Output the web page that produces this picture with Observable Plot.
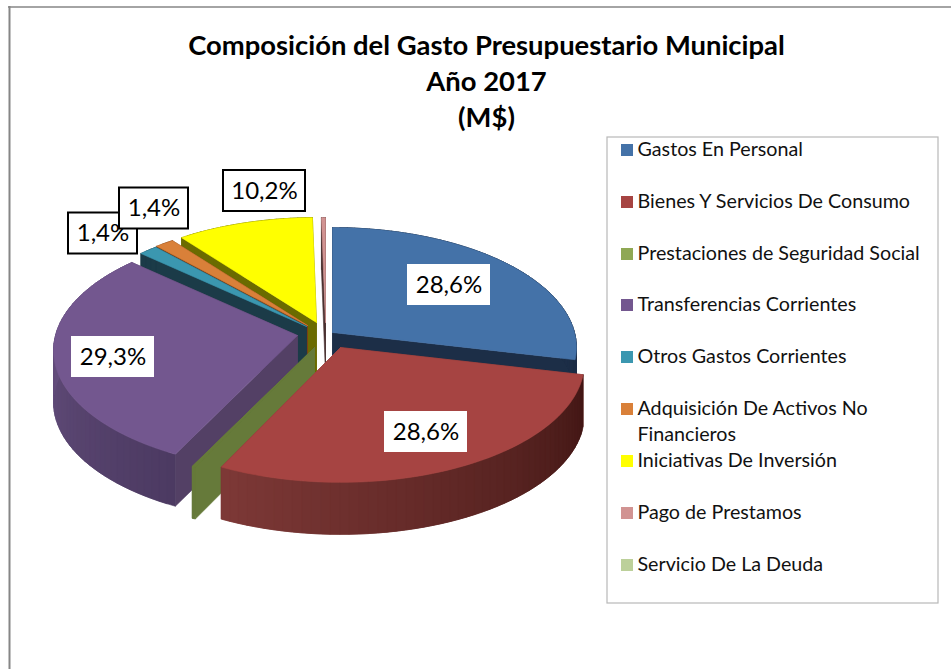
<!DOCTYPE html>
<html lang="es">
<head>
<meta charset="utf-8">
<title>Composición del Gasto Presupuestario Municipal</title>
<script src="https://cdn.jsdelivr.net/npm/d3@7"></script>
<script src="https://cdn.jsdelivr.net/npm/@observablehq/plot@0.6"></script>
<style>
  html, body { margin: 0; padding: 0; background: #fff; }
  svg { display: block; }
</style>
</head>
<body>
<div id="chart"></div>
<script>
// ---- Data ----
const categories = [
  "Gastos En Personal", "Bienes Y Servicios De Consumo", "Prestaciones de Seguridad Social",
  "Transferencias Corrientes", "Otros Gastos Corrientes", "Adquisición De Activos No Financieros",
  "Iniciativas De Inversión", "Pago de Prestamos", "Servicio De La Deuda"
];
const shares = [28.6, 28.6, 0.2, 29.3, 1.4, 1.4, 10.2, 0.3, 0];
const labelled = [28.6, 28.6, null, 29.3, 1.4, 1.4, 10.2, null, null];
const titleLines = ["Composición del Gasto Presupuestario Municipal", "Año 2017", "(M$)"];

// ---- Colours ----
const legendColors = ["#4472a8", "#a64442", "#8fa854", "#73578f", "#3b97b0", "#d98039", "#ffff00", "#d19392", "#bcd09a"];
const topColors  = ["#4472a8", "#a64442", "#667a3a", "#73578f", "#3b97b0", "#d98039", "#ffff00", "#d19392", "#bcd09a"];
const wallFront  = ["#1c2e47", "#7e3937", "#667a3a", "#4c3a62", "#1b3b48", "#7a3f15", "#6b6b00", "#4a3030", "#6b7a50"];
const wallBack   = ["#1c2e47", "#3f1513", "#667a3a", "#66507f", "#1b3b48", "#7a3f15", "#6b6b00", "#4a3030", "#6b7a50"];
const edgeColors = ["#1c2e47", "#7e3937", "#667a3a", "#534065", "#1b3b48", "#7a3f15", "#6b6b00", "#4a3030", "#6b7a50"];

// ---- 3D pie layout (pixels of the plot scale) ----
const radiusX = 242, radiusY = 118, perspective = 0.125, depth = 52;
const apexes = [[332,332],[340,347],[314,347],[297,335],[306,326],[307,325],[316,322],[325,322],[325,322]];
const paintOrder = [7, 0, 6, 5, 4, 3, 2, 1];

const slices = d3.pie().sort(null).value(d => d)(shares);
const rim = (i, a) => {
  const u = Math.sin(a), v = -Math.cos(a), w = 1 / (1 - perspective * v);
  return [apexes[i][0] + radiusX * u * w, apexes[i][1] + radiusY * v * w];
};
const polys = [];
let polyId = 0;
const addPoly = (pts, fill) => {
  const id = polyId++;
  for (const [x, y] of [...pts, pts[0]]) polys.push({id, x, y, fill});
};
for (const i of paintOrder) {
  const {startAngle: a0, endAngle: a1} = slices[i];
  const [ax, ay] = apexes[i];
  const n = Math.max(2, Math.ceil((a1 - a0) / (Math.PI / 90)));
  const angles = d3.range(n + 1).map(k => a0 + (a1 - a0) * k / n);
  // radial walls
  for (const a of [a1, a0]) {
    const [x, y] = rim(i, a);
    addPoly([[ax, ay], [x, y], [x, y + depth], [ax, ay + depth]], edgeColors[i]);
  }
  // outer wall, shaded strip by strip; each strip runs under the next one so no seam shows
  const shade = d3.interpolateRgb(wallFront[i], wallBack[i]);
  const low = Math.PI * 0.55, high = Math.PI * 1.15;
  for (let k = 0; k < n; k++) {
    const end = Math.min(k + 2, n);
    const arc = d3.range(k, end + 1).map(j => rim(i, angles[j]));
    const mid = (angles[k] + angles[k + 1]) / 2;
    const t = i === 3 ? (mid - Math.PI * 1.15) / (Math.PI * 0.4)
                      : (high - mid) / (high - low);
    addPoly([...arc, ...arc.slice().reverse().map(([x, y]) => [x, y + depth])],
            shade(Math.max(0, Math.min(1, t))));
  }
  // top surface
  addPoly([[ax, ay], ...angles.map(a => rim(i, a))], topColors[i]);
}

// ---- Data labels ----
const labelBoxes = [
  {i: 0, x: 448.5, y: 284.5, w: 83, boxed: false},
  {i: 1, x: 425.5, y: 431.5, w: 83, boxed: false},
  {i: 3, x: 112.5, y: 356.5, w: 83, boxed: false},
  {i: 4, x: 102.5, y: 233,   w: 69, boxed: true},
  {i: 5, x: 153.5, y: 208,   w: 69, boxed: true},
  {i: 6, x: 264,   y: 190.5, w: 82, boxed: true}
];
const fmt = v => String(v).replace(".", ",") + "%";
const labelMarks = labelBoxes.flatMap(b => [
  Plot.rect([b], {
    x1: d => d.x - d.w / 2, x2: d => d.x + d.w / 2,
    y1: d => d.y - 20.5, y2: d => d.y + 20.5,
    fill: "white", stroke: b.boxed ? "#000" : "none", strokeWidth: 2
  }),
  Plot.text([b], {
    x: "x", y: "y", text: d => fmt(labelled[d.i]),
    fontFamily: "Lato, Carlito, sans-serif", fontSize: 24, fill: "#000",
    textAnchor: "middle", lineAnchor: "middle"
  })
]);

// ---- Legend ----
const legendRows = [150, 202, 254, 305, 357, 409, 461, 513, 565];
const legendRowsData = categories.map((name, i) => ({name, i, y: legendRows[i], color: legendColors[i]}));
const legendLines = legendRowsData.flatMap(d =>
  d.i === 5
    ? [{text: "Adquisición De Activos No", y: d.y - 1}, {text: "Financieros", y: d.y + 25}]
    : [{text: d.name, y: d.y - 1}]
);

const chart = Plot.plot({
  width: 951, height: 669,
  margin: 0,
  style: {background: "#fff", overflow: "visible"},
  x: {domain: [0, 951], range: [0, 951], axis: null},
  y: {domain: [0, 669], range: [0, 669], axis: null},
  color: {type: "identity"},
  marks: [
    // outer chart frame
    Plot.ruleX([9], {y1: 6, y2: 669, stroke: "#868686", strokeWidth: 2}),
    Plot.ruleY([6.5], {x1: 8, x2: 951, stroke: "#868686", strokeWidth: 1.5}),
    // title
    Plot.text(titleLines, {
      x: 486, y: (d, i) => 46 + i * 36, text: d => d,
      fontFamily: "Lato, Carlito, sans-serif", fontWeight: "bold", fontSize: 27.4, fill: "#000",
      textAnchor: "middle", lineAnchor: "middle"
    }),
    // pie
    Plot.line(polys, {x: "x", y: "y", z: "id", fill: "fill", stroke: "fill", strokeWidth: 0.6}),
    ...labelMarks,
    // legend
    Plot.rect([0], {x1: 607, x2: 938, y1: 137, y2: 603, fill: "white", stroke: "#b8b8b8", strokeWidth: 1.2}),
    Plot.rect(legendRowsData, {
      x1: () => 621, x2: () => 633, y1: d => d.y - 6, y2: d => d.y + 6, fill: "color"
    }),
    Plot.text(legendLines, {
      x: () => 637, y: "y", text: "text",
      fontFamily: "Lato, Carlito, sans-serif", fontSize: 19.7, fill: "#111",
      textAnchor: "start", lineAnchor: "middle"
    })
  ]
});
document.getElementById("chart").append(chart);
</script>
</body>
</html>
